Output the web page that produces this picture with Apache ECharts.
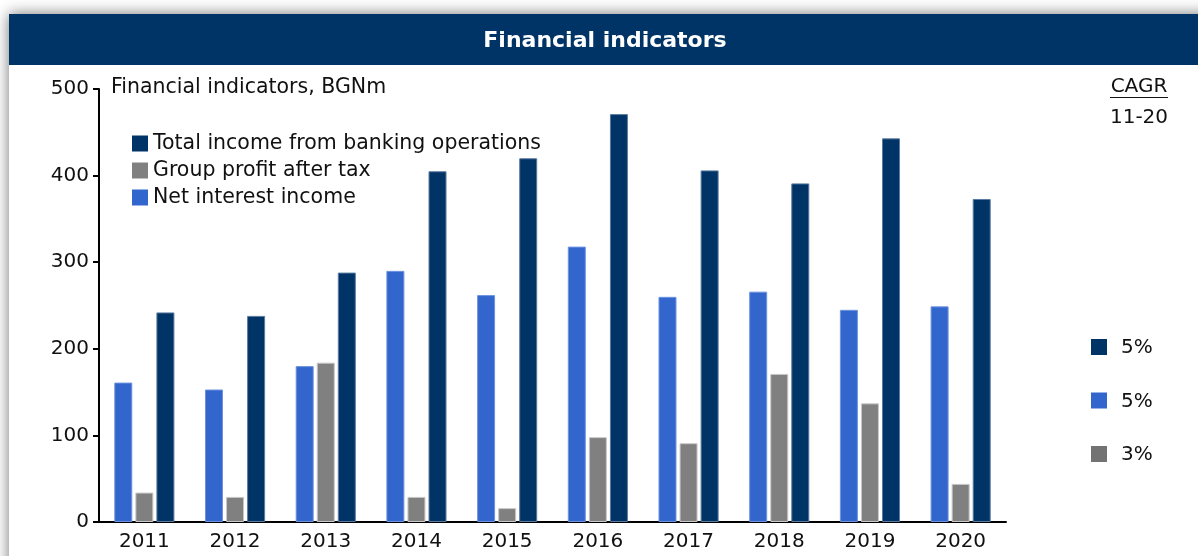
<!DOCTYPE html>
<html>
<head>
<meta charset="utf-8">
<title>Financial indicators</title>
<script src="https://cdn.jsdelivr.net/npm/echarts@6/dist/echarts.min.js"></script>
<style>
  html, body { margin: 0; padding: 0; background: #fff; }
  #chart { width: 1198px; height: 556px; }
</style>
</head>
<body>
<div id="chart"></div>
<script>
// data (BGNm)
var years = ['2011', '2012', '2013', '2014', '2015', '2016', '2017', '2018', '2019', '2020'];
var netInterest = [161, 153, 180, 290, 262, 318, 260, 266, 245, 249];
var groupProfit = [34, 29, 184, 29, 16, 98, 91, 171, 137, 44];
var totalIncome = [242, 238, 288, 405, 420, 471, 406, 391, 443, 373];

// CAGR 11-20 legend on the right
var cagrLabels = ['5%', '5%', '3%'];
var cagrColors = ['#003366', '#3366cc', '#737373'];

var navy = '#003366';
var blue = '#3366cc';
var grey = '#808080';
var font = 'DejaVu Sans';

var chart = echarts.init(document.getElementById('chart'));

// right hand CAGR legend built from the arrays
var cagrGraphics = [];
cagrLabels.forEach(function (txt, i) {
  var cy = 347 + i * 53.5;
  cagrGraphics.push({
    type: 'rect', shape: { x: 1091, y: cy - 8, width: 16, height: 16 },
    style: { fill: cagrColors[i] }
  });
  cagrGraphics.push({
    type: 'text', x: 1121, y: cy + 1,
    style: { text: txt, font: '20px ' + font, fill: '#111', textVerticalAlign: 'middle' }
  });
});

var option = {
  animation: false,
  textStyle: { fontFamily: font },
  graphic: [
    // card with shadow
    {
      type: 'rect', z: -10, silent: true,
      shape: { x: 9, y: 14, width: 1250, height: 600 },
      style: { fill: '#fff', shadowBlur: 14, shadowColor: 'rgba(0,0,0,0.55)' }
    },
    // header bar
    {
      type: 'rect', z: -5,
      shape: { x: 9, y: 14, width: 1250, height: 51 },
      style: { fill: navy }
    },
    {
      type: 'text', x: 605, y: 41,
      style: { text: 'Financial indicators', font: 'bold 22px ' + font, fill: '#fff',
        textAlign: 'center', textVerticalAlign: 'middle' }
    },
    {
      type: 'text', x: 111, y: 88,
      style: { text: 'Financial indicators, BGNm', font: '20.5px ' + font, fill: '#111',
        textVerticalAlign: 'middle' }
    },
    {
      type: 'text', x: 1139, y: 87,
      style: { text: 'CAGR', font: '20px ' + font, fill: '#111',
        textAlign: 'center', textVerticalAlign: 'middle' }
    },
    {
      type: 'rect', shape: { x: 1110, y: 97, width: 58, height: 1 },
      style: { fill: '#111' }
    },
    {
      type: 'text', x: 1139, y: 118,
      style: { text: '11-20', font: '20px ' + font, fill: '#111',
        textAlign: 'center', textVerticalAlign: 'middle' }
    }
  ].concat(cagrGraphics),
  legend: {
    orient: 'vertical',
    left: 132,
    top: 133,
    padding: 0,
    itemWidth: 16,
    itemHeight: 16,
    itemGap: 6,
    icon: 'rect',
    itemStyle: { borderWidth: 0 },
    textStyle: { fontSize: 20.5, color: '#111', fontFamily: font },
    data: ['Total income from banking operations', 'Group profit after tax', 'Net interest income']
  },
  grid: { left: 99, right: 192, top: 89, bottom: 34 },
  xAxis: {
    type: 'category',
    data: years,
    axisTick: { show: false },
    axisLine: { lineStyle: { color: '#000', width: 2 } },
    axisLabel: { fontSize: 20, color: '#111', margin: 10, fontFamily: font }
  },
  yAxis: {
    type: 'value',
    min: 0,
    max: 500,
    interval: 100,
    splitLine: { show: false },
    axisLine: { show: true, lineStyle: { color: '#000', width: 2 } },
    axisTick: { show: true, length: 6, lineStyle: { color: '#000', width: 2 } },
    axisLabel: { fontSize: 20, color: '#111', margin: 10, fontFamily: font }
  },
  series: [
    {
      name: 'Net interest income', type: 'bar', data: netInterest,
      barWidth: 18, barGap: '17%',
      itemStyle: { color: blue, borderColor: '#6d93e0', borderWidth: 1 }
    },
    {
      name: 'Group profit after tax', type: 'bar', data: groupProfit,
      barWidth: 18, barGap: '17%',
      itemStyle: { color: grey, borderColor: '#c8c8c8', borderWidth: 1 }
    },
    {
      name: 'Total income from banking operations', type: 'bar', data: totalIncome,
      barWidth: 18, barGap: '17%',
      itemStyle: { color: navy, borderColor: '#5a7aa0', borderWidth: 1 }
    }
  ]
};

chart.setOption(option);
</script>
</body>
</html>
